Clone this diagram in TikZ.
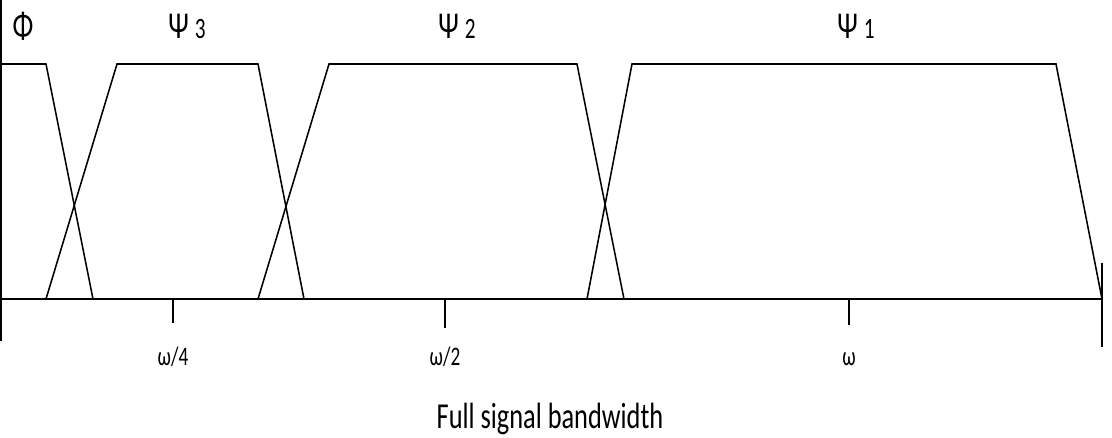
\documentclass[tikz,border=0pt]{standalone}
\usepackage{fontspec}
\setmainfont{Carlito}[FakeStretch=0.72]

\begin{document}
\begin{tikzpicture}[x=0.025cm, y=-0.025cm, line width=1.1pt,
  band/.style={line join=miter},
  bandlabel/.style={anchor=base, inner sep=0pt, font=\fontsize{27}{30}\selectfont},
  ticklabel/.style={anchor=base, inner sep=0pt, font=\fontsize{19}{22}\selectfont}]
\useasboundingbox (0,0) rectangle (1112,438);
% axes:
\draw (1,0) -- (1,341);
\draw (0,299) -- (1102,299);
\draw (1102,263) -- (1102,347);
% ticks:
\draw (173,299) -- (173,323) ;\draw (445,299) -- (445,328) ;\draw (849,299) -- (849,325) ;
% bands:
\draw[band] (0,64) -- (46,64) -- (93,299);
\draw[band] (46,299) -- (117,64) -- (258,64) -- (304,299);
\draw[band] (258,299) -- (329,64) -- (577,64) -- (624,299);
\draw[band] (587,299) -- (632,64) -- (1056,64) -- (1102,299);
% labels:
\node[bandlabel] (phi) at (23,39) {Φ};
\node[bandlabel] (psi3) at (187,39) {Ψ {\fontsize{21}{24}\selectfont 3}};
\node[bandlabel] (psi2) at (457,39) {Ψ {\fontsize{21}{24}\selectfont 2}};
\node[bandlabel] (psi1) at (856,39) {Ψ {\fontsize{21}{24}\selectfont 1}};
\node[ticklabel] (w4) at (173,366) {ω/4};
\node[ticklabel] (w2) at (445,366) {ω/2};
\node[ticklabel] (w1) at (849,366) {ω};
\node[anchor=base, inner sep=0pt, font=\fontsize{26}{30}\selectfont] (bw) at (550,429) {Full signal bandwidth};
\end{tikzpicture}
\end{document}
